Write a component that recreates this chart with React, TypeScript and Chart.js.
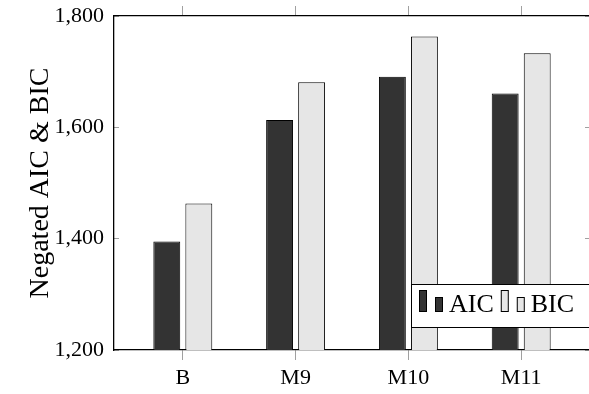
import React, { useEffect, useRef } from "react";
import { Chart, registerables } from "chart.js";

Chart.register(...registerables);

const categories = ["B", "M9", "M10", "M11"];
const aicValues = [1395, 1613, 1691, 1661];
const bicValues = [1463, 1681, 1763, 1733];
const yTickValues = [1200, 1400, 1600, 1800];
const seriesLabels = ["AIC", "BIC"];
const seriesColors = ["#333333", "#e6e6e6"];
const yTitle = "Negated AIC & BIC";

const FONT = "'Liberation Serif', 'Times New Roman', serif";
const TICK_GREY = "#a0a0a0";

const legendPlugin = {
  id: "boxLegend",
  afterDraw(chart: any) {
    const { ctx, chartArea } = chart;
    const boxLeft = chartArea.right - 179;
    const boxTop = chartArea.bottom - 66;
    const boxH = 43;
    const boxW = 200;
    ctx.save();
    ctx.fillStyle = "#ffffff";
    ctx.fillRect(boxLeft, boxTop, boxW, boxH);
    ctx.strokeStyle = "#000";
    ctx.lineWidth = 1;
    ctx.strokeRect(boxLeft + 0.5, boxTop + 0.5, boxW, boxH);
    const baseY = boxTop + 28;
    let x = boxLeft + 8;
    ctx.font = `26px ${FONT}`;
    ctx.textBaseline = "alphabetic";
    chart.data.datasets.forEach((ds: any) => {
      ctx.fillStyle = ds.backgroundColor;
      ctx.strokeStyle = "#000";
      ctx.fillRect(x, baseY - 22, 8, 22);
      ctx.strokeRect(x + 0.5, baseY - 22 + 0.5, 7, 21);
      ctx.fillRect(x + 16, baseY - 15, 8, 15);
      ctx.strokeRect(x + 16.5, baseY - 15 + 0.5, 7, 14);
      ctx.fillStyle = "#000";
      ctx.fillText(ds.label, x + 30, baseY);
      x += 30 + ctx.measureText(ds.label).width + 7;
    });
    ctx.restore();
  },
};

export default function App() {
  const canvasRef = useRef<HTMLCanvasElement | null>(null);

  useEffect(() => {
    const canvas = canvasRef.current;
    if (!canvas) return;
    const xTicksBuild = (s: any) => {
      s.ticks = categories.map((_, i) => ({ value: i }));
    };
    const yTicksBuild = (s: any) => {
      s.ticks = yTickValues.map((v) => ({ value: v }));
    };
    const noPad = (s: any) => {
      s.paddingTop = 0;
      s.paddingBottom = 0;
      s.paddingLeft = 0;
      s.paddingRight = 0;
    };
    const border = { display: true, color: "#000", width: 1.3 };
    const chart = new Chart(canvas, {
      type: "bar",
      data: {
        datasets: [
          {
            label: seriesLabels[0],
            data: aicValues.map((v, i) => ({ x: i, y: v })),
            backgroundColor: seriesColors[0],
            borderColor: "#000",
            borderWidth: 1,
            categoryPercentage: 0.568,
            barPercentage: 0.84,
          },
          {
            label: seriesLabels[1],
            data: bicValues.map((v, i) => ({ x: i, y: v })),
            backgroundColor: seriesColors[1],
            borderColor: "#000",
            borderWidth: 1,
            categoryPercentage: 0.568,
            barPercentage: 0.84,
          },
        ] as any,
      },
      options: {
        animation: false,
        responsive: false,
        maintainAspectRatio: false,
        layout: { padding: 0 },
        plugins: { legend: { display: false }, tooltip: { enabled: false } },
        scales: {
          x: {
            type: "linear",
            position: "bottom",
            min: -0.61,
            max: 3.61,
            offset: false,
            afterBuildTicks: xTicksBuild,
            afterFit: (s: any) => {
              s.height = 44;
              noPad(s);
            },
            ticks: {
              callback: (v: any) => categories[v] ?? "",
              font: { family: FONT, size: 22 },
              color: "#000",
              padding: 5,
              maxRotation: 0,
              autoSkip: false,
            },
            grid: { offset: false, drawOnChartArea: false, drawTicks: true, tickLength: 10, color: TICK_GREY },
            border,
          },
          x2: {
            type: "linear",
            position: "top",
            min: -0.61,
            max: 3.61,
            offset: false,
            afterBuildTicks: xTicksBuild,
            afterFit: (s: any) => {
              s.height = 16;
              noPad(s);
            },
            ticks: { display: false },
            grid: { offset: false, drawOnChartArea: false, drawTicks: true, tickLength: 10, color: TICK_GREY },
            border,
          },
          y: {
            type: "linear",
            position: "left",
            min: 1200,
            max: 1800,
            afterBuildTicks: yTicksBuild,
            afterFit: (s: any) => {
              s.width = 114;
              noPad(s);
            },
            ticks: {
              callback: (v: any) => Number(v).toLocaleString("en-US"),
              font: { family: FONT, size: 22 },
              color: "#000",
              padding: 15,
            },
            grid: { drawOnChartArea: false, drawTicks: true, tickLength: -5, color: TICK_GREY },
            border,
            title: {
              display: true,
              text: yTitle,
              font: { family: FONT, size: 28 },
              color: "#000",
              padding: { top: 24, bottom: 0 },
            },
          },
          y2: {
            type: "linear",
            position: "right",
            min: 1200,
            max: 1800,
            afterBuildTicks: yTicksBuild,
            afterFit: (s: any) => {
              s.width = 2;
              noPad(s);
            },
            ticks: { display: false },
            grid: { drawOnChartArea: false, drawTicks: true, tickLength: -5, color: TICK_GREY },
            border,
          },
        } as any,
      },
      plugins: [legendPlugin],
    });
    return () => chart.destroy();
  }, []);

  return (
    <div
      style={{
        position: "fixed",
        left: 0,
        top: 0,
        width: 589,
        height: 394,
        overflow: "hidden",
        background: "#fff",
      }}
    >
      <canvas ref={canvasRef} width={592} height={394} style={{ width: 592, height: 394, display: "block" }} />
    </div>
  );
}
